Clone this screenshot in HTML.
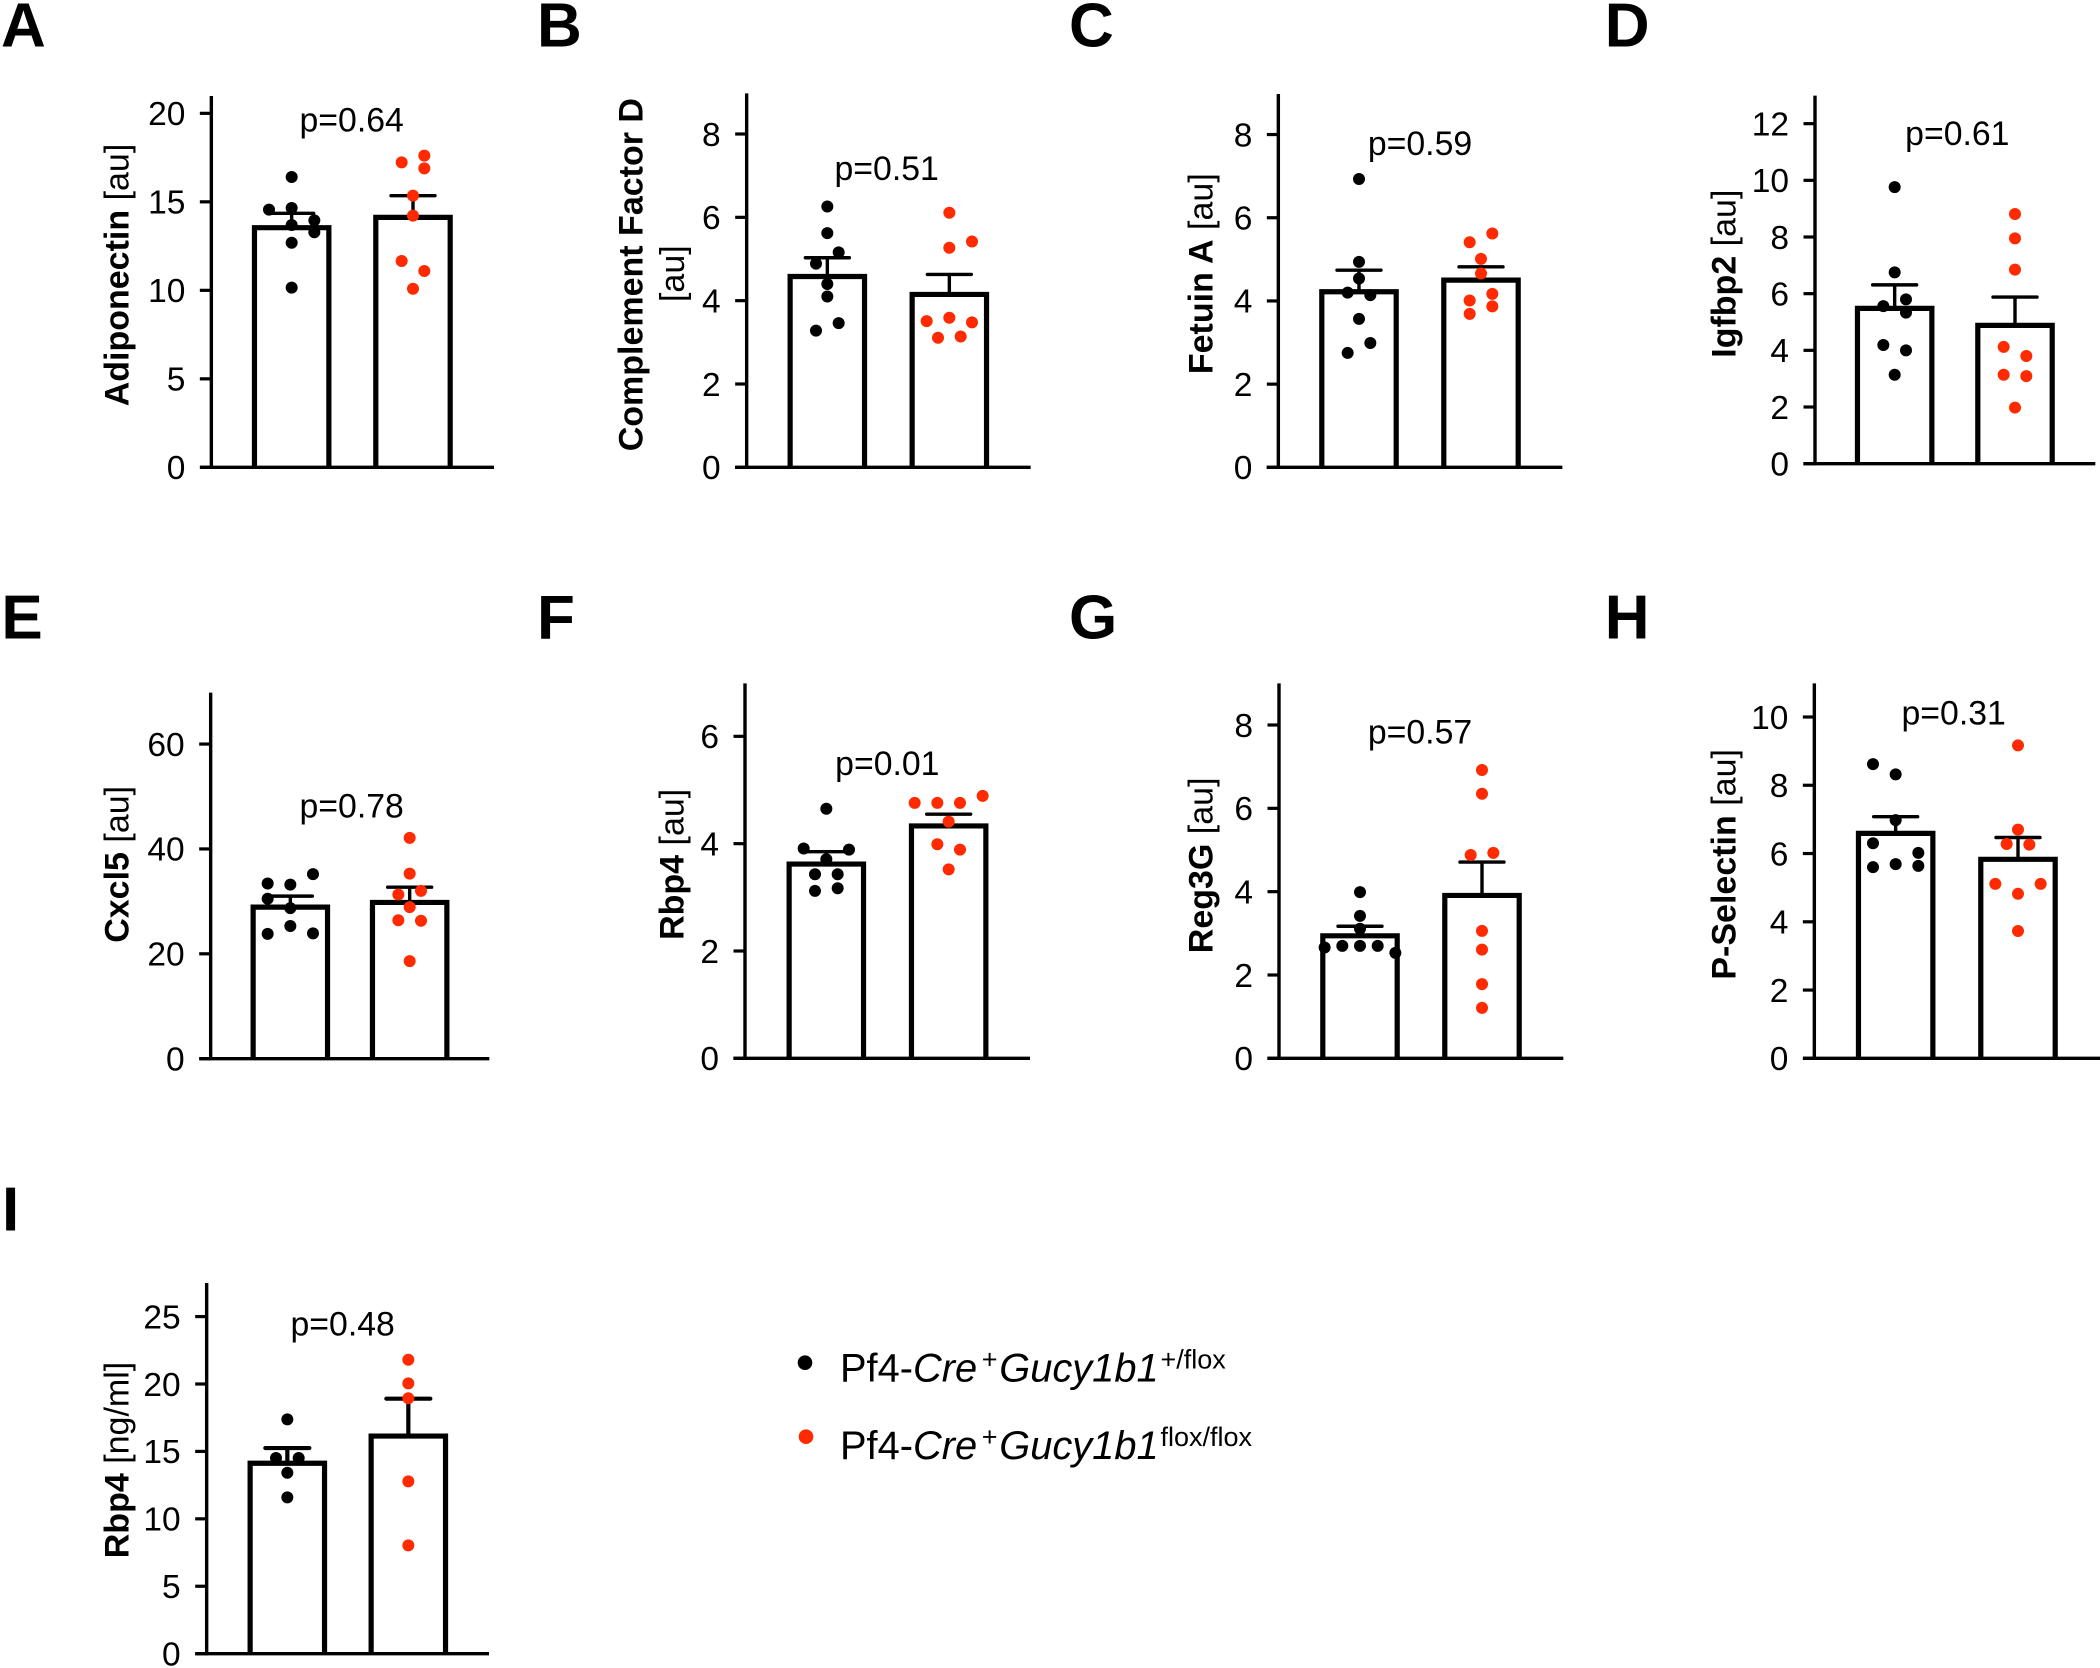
<!DOCTYPE html>
<html lang="en">
<head>
<meta charset="utf-8">
<title>Plasma protein levels by genotype</title>
<style>
html,body{margin:0;padding:0;background:#fff;}
svg{display:block;}
text{font-family:"Liberation Sans",Arial,sans-serif;fill:#000;}
.letter{font-size:62px;font-weight:700;}
.tick{font-size:33.5px;text-anchor:end;}
.pval{font-size:33.8px;text-anchor:middle;}
.ytitle{font-size:34px;text-anchor:middle;}
.legend{font-size:39.8px;}
</style>
</head>
<body>
<svg id="fig" xmlns="http://www.w3.org/2000/svg" width="2100" height="1668" viewBox="0 0 2100 1668">
  <rect x="0" y="0" width="2100" height="1668" fill="#fff"/>
  <text class="letter" x="1" y="46.7">A</text>
  <text class="letter" x="537" y="46.7">B</text>
  <text class="letter" x="1069" y="46.7">C</text>
  <text class="letter" x="1604.8" y="46.7">D</text>
  <text class="letter" x="1.4" y="638.3">E</text>
  <text class="letter" x="537" y="638.3">F</text>
  <text class="letter" x="1069" y="638.3">G</text>
  <text class="letter" x="1604.8" y="638.3">H</text>
  <text class="letter" x="2" y="1230.3">I</text>
  <g>
    <circle cx="805" cy="1362.7" r="7.3" fill="#000"/>
    <text class="legend" x="840" y="1381.7">Pf4-<tspan font-style="italic">Cre</tspan><tspan font-size="27" x="981.7" dy="-13">+</tspan><tspan font-style="italic" x="999.3" dy="13">Gucy1b1</tspan><tspan font-size="27" x="1160.5" dy="-13">+/flox</tspan></text>
    <circle cx="806" cy="1436.7" r="7.3" fill="#ff2a00"/>
    <text class="legend" x="840" y="1459">Pf4-<tspan font-style="italic">Cre</tspan><tspan font-size="27" x="981.7" dy="-13">+</tspan><tspan font-style="italic" x="999.3" dy="13">Gucy1b1</tspan><tspan font-size="27" x="1160.5" dy="-13">flox/flox</tspan></text>
  </g>
</svg>
<script>
// Panel A: Adiponectin
const aTicks = [0, 5, 10, 15, 20];
const aMeans = [13.54, 14.12];
const aErrTops = [14.35, 15.35];
const aBlack = [16.40, 14.56, 14.65, 13.95, 13.69, 13.28, 12.69, 10.15];
const aBlackSwarm = [0, -2, 0, 2, 0, 2, 0, 0];
const aRed = [17.61, 17.23, 16.89, 15.35, 14.22, 11.66, 11.09, 10.09];
const aRedSwarm = [1, -1, 1, 0, 0, -1, 1, 0];

// Panel B: Complement Factor D
const bTicks = [0, 2, 4, 6, 8];
const bMeans = [4.58, 4.15];
const bErrTops = [5.03, 4.63];
const bBlack = [6.26, 5.62, 5.16, 4.89, 4.40, 4.10, 3.46, 3.28];
const bBlackSwarm = [0, 0, 1, -1, 0, 0, 1, -1];
const bRed = [6.11, 5.42, 5.27, 3.59, 3.51, 3.48, 3.14, 3.11];
const bRedSwarm = [0, 2, 0, 0, -2, 2, 1, -1];

// Panel C: Fetuin A
const cTicks = [0, 2, 4, 6, 8];
const cMeans = [4.22, 4.50];
const cErrTops = [4.74, 4.82];
const cBlack = [6.93, 4.94, 4.54, 4.20, 4.14, 3.57, 2.99, 2.75];
const cBlackSwarm = [0, 0, 0, -1, 1, 0, 1, -1];
const cRed = [5.62, 5.41, 5.01, 4.66, 4.17, 4.01, 3.87, 3.69];
const cRedSwarm = [1, -1, 0, 0, 1, -1, 1, -1];

// Panel D: Igfbp2
const dTicks = [0, 2, 4, 6, 8, 10, 12];
const dMeans = [5.48, 4.88];
const dErrTops = [6.31, 5.88];
const dBlack = [9.76, 6.75, 5.80, 5.56, 5.33, 4.19, 4.00, 3.14];
const dBlackSwarm = [0, 0, 1, -1, 1, -1, 1, 0];
const dRed = [8.81, 7.95, 6.85, 4.12, 3.80, 3.14, 3.09, 1.98];
const dRedSwarm = [0, 0, 0, -1, 1, -1, 1, 0];

// Panel E: Cxcl5
const eTicks = [0, 20, 40, 60];
const eMeans = [28.9, 29.8];
const eErrTops = [31.0, 32.7];
const eBlack = [35.2, 33.4, 33.2, 30.5, 28.7, 25.3, 23.9, 23.8];
const eBlackSwarm = [2, -2, 0, -2, 0, 0, 2, -2];
const eRed = [42.1, 35.3, 32.0, 31.3, 28.9, 26.4, 26.3, 18.6];
const eRedSwarm = [0, 0, 1, -1, 0, -1, 1, 0];

// Panel F: Rbp4 (au)
const fTicks = [0, 2, 4, 6];
const fMeans = [3.62, 4.33];
const fErrTops = [3.85, 4.55];
const fBlack = [4.65, 3.91, 3.89, 3.71, 3.43, 3.43, 3.17, 3.12];
const fBlackSwarm = [0, -2, 2, 0, -1, 1, 1, -1];
const fRed = [4.89, 4.76, 4.76, 4.76, 4.41, 3.99, 3.89, 3.52];
const fRedSwarm = [3, -3, -1, 1, 0, -1, 1, 0];

// Panel G: Reg3G
const gTicks = [0, 2, 4, 6, 8];
const gMeans = [2.94, 3.91];
const gErrTops = [3.17, 4.71];
const gBlack = [3.99, 3.42, 3.11, 2.70, 2.70, 2.70, 2.66, 2.53];
const gBlackSwarm = [0, 0, 0, -1.56, 0, 1.56, -3.12, 3.12];
const gRed = [6.92, 6.35, 4.93, 4.88, 3.06, 2.61, 1.78, 1.21];
const gRedSwarm = [0, 0, 1, -1, 0, 0, 0, 0];

// Panel H: P-Selectin
const hTicks = [0, 2, 4, 6, 8, 10];
const hMeans = [6.59, 5.83];
const hErrTops = [7.08, 6.47];
const hBlack = [8.62, 8.32, 6.98, 6.30, 6.02, 5.69, 5.64, 5.60];
const hBlackSwarm = [-2, 0, 0, -2, 2, 0, 2, -2];
const hRed = [9.17, 6.70, 6.28, 6.26, 5.11, 5.11, 4.82, 3.73];
const hRedSwarm = [0, 0, -1, 1, -2, 2, 0, 0];

// Panel I: Rbp4 (ng/ml)
const iTicks = [0, 5, 10, 15, 20, 25];
const iMeans = [14.12, 16.14];
const iErrTops = [15.25, 18.91];
const iBlack = [17.38, 14.51, 14.51, 13.42, 11.59];
const iBlackSwarm = [0, -1, 1, 0, 0];
const iRed = [21.80, 20.05, 18.94, 12.78, 8.03];
const iRedSwarm = [0, 0, 0, 0, 0];

// Layout of each panel, measured at 3x from a crop origin (ox, oy)
const panels = [
  {key:'a', ox:0,    oy:0,    axisX:634, top:288, base:1402, unit:53.1,  xStart:600, xEnd:1482, bars:[875,1239],  pLabel:'p=0.64', pX:1055, pY:395, title:'Adiponectin', unitText:'[au]', titleX:385, titleY:825,
   ticks:aTicks, means:aMeans, errTops:aErrTops, black:aBlack, blackSwarm:aBlackSwarm, red:aRed, redSwarm:aRedSwarm},
  {key:'b', ox:530,  oy:0,    axisX:650, top:280, base:1402, unit:125,   xStart:615, xEnd:1502, bars:[892,1258],  pLabel:'p=0.51', pX:1070, pY:540, title:'Complement Factor D', unitText:'', titleX:338, titleY:824, line2:'[au]', line2X:462, line2Y:821,
   ticks:bTicks, means:bMeans, errTops:bErrTops, black:bBlack, blackSwarm:bBlackSwarm, red:bRed, redSwarm:bRedSwarm},
  {key:'c', ox:1050, oy:0,    axisX:685, top:282, base:1402, unit:124.8, xStart:650, xEnd:1537, bars:[927,1293],  pLabel:'p=0.59', pX:1110, pY:465, title:'Fetuin A', unitText:'[au]', titleX:487, titleY:821,
   ticks:cTicks, means:cMeans, errTops:cErrTops, black:cBlack, blackSwarm:cBlackSwarm, red:cRed, redSwarm:cRedSwarm},
  {key:'d', ox:1580, oy:0,    axisX:705, top:287, base:1391, unit:85,    xStart:670, xEnd:1546, bars:[944,1305],  pLabel:'p=0.61', pX:1132, pY:435, title:'Igfbp2', unitText:'[au]', titleX:467, titleY:821,
   ticks:dTicks, means:dMeans, errTops:dErrTops, black:dBlack, blackSwarm:dBlackSwarm, red:dRed, redSwarm:dRedSwarm},
  {key:'e', ox:0,    oy:590,  axisX:632, top:308, base:1406, unit:15.73, xStart:598, xEnd:1468, bars:[871,1229],  pLabel:'p=0.78', pX:1055, pY:682, title:'Cxcl5', unitText:'[au]', titleX:385, titleY:823,
   ticks:eTicks, means:eMeans, errTops:eErrTops, black:eBlack, blackSwarm:eBlackSwarm, red:eRed, redSwarm:eRedSwarm},
  {key:'f', ox:530,  oy:590,  axisX:645, top:280, base:1405, unit:161,   xStart:610, xEnd:1500, bars:[889,1256],  pLabel:'p=0.01', pX:1072, pY:555, title:'Rbp4', unitText:'[au]', titleX:460, titleY:823,
   ticks:fTicks, means:fMeans, errTops:fErrTops, black:fBlack, blackSwarm:fBlackSwarm, red:fRed, redSwarm:fRedSwarm},
  {key:'g', ox:1050, oy:590,  axisX:687, top:280, base:1405, unit:125,   xStart:652, xEnd:1540, bars:[930,1296],  pLabel:'p=0.57', pX:1110, pY:460, title:'Reg3G', unitText:'[au]', titleX:487, titleY:826,
   ticks:gTicks, means:gMeans, errTops:gErrTops, black:gBlack, blackSwarm:gBlackSwarm, red:gRed, redSwarm:gRedSwarm},
  {key:'h', ox:1580, oy:590,  axisX:703, top:280, base:1405, unit:102.4, xStart:669, xEnd:1560, bars:[947,1314],  pLabel:'p=0.31', pX:1121, pY:403, title:'P-Selectin', unitText:'[au]', titleX:467, titleY:823,
   ticks:hTicks, means:hMeans, errTops:hErrTops, black:hBlack, blackSwarm:hBlackSwarm, red:hRed, redSwarm:hRedSwarm},
  {key:'i', ox:0,    oy:1168, axisX:620, top:345, base:1457, unit:40.45, xStart:586, xEnd:1467, bars:[862,1225],  pLabel:'p=0.48', pX:1028, pY:503, title:'Rbp4', unitText:'[ng/ml]', titleX:385, titleY:876,
   ticks:iTicks, means:iMeans, errTops:iErrTops, black:iBlack, blackSwarm:iBlackSwarm, red:iRed, redSwarm:iRedSwarm}
];

const NS = 'http://www.w3.org/2000/svg';
const fig = document.getElementById('fig');
const SLOT = 34 / 3;
const BAR_HALF = 37.2;
const CAP_HALF = 66 / 3;
const DOT_R = 6;
const RED = '#ff2a00';
const groupNames = ['control', 'knockout'];

function make(parent, tag, attrs, text) {
  const node = document.createElementNS(NS, tag);
  for (const k in attrs) node.setAttribute(k, attrs[k]);
  if (text !== undefined) node.textContent = text;
  parent.appendChild(node);
  return node;
}

function drawPanel(p) {
  const px = z => p.ox + z / 3;
  const py = z => p.oy + z / 3;
  const yScale = v => py(p.base - v * p.unit);
  const xScale = i => px(p.bars[i]);
  const axisX = px(p.axisX);
  const baseY = yScale(0);

  const g = make(fig, 'g', {});
  
  

  // bars
  p.means.forEach((m, i) => {
    const x = xScale(i);
    const bar = make(g, 'path', {
      d: 'M' + (x - BAR_HALF) + ' ' + baseY + 'V' + yScale(m) + 'H' + (x + BAR_HALF) + 'V' + baseY,
      fill: '#fff', stroke: '#000', 'stroke-width': 5.2, 'stroke-linejoin': 'miter'
    });
    
    
  });

  // error bars
  const errWidth = p.key === 'i' ? 4.2 : 3.4;
  p.errTops.forEach((t, i) => {
    const x = xScale(i);
    const err = make(g, 'path', {
      d: 'M' + x + ' ' + yScale(p.means[i]) + 'V' + yScale(t) + 'M' + (x - CAP_HALF) + ' ' + yScale(t) + 'H' + (x + CAP_HALF),
      fill: 'none', stroke: '#000', 'stroke-width': errWidth, 'stroke-linecap': 'round'
    });
    
    
  });

  // axes
  const yAxis = make(g, 'line', {x1: axisX, x2: axisX, y1: py(p.top), y2: baseY + 1.6, stroke: '#000', 'stroke-width': 3.4});
  
  
  const xAxis = make(g, 'line', {x1: px(p.xStart), x2: px(p.xEnd), y1: baseY, y2: baseY, stroke: '#000', 'stroke-width': 3.4});
  
  

  // ticks and labels
  p.ticks.forEach(t => {
    const y = yScale(t);
    const tick = make(g, 'line', {x1: axisX - 11.5, x2: axisX, y1: y, y2: y, stroke: '#000', 'stroke-width': 3.2});
    
    
    const label = make(g, 'text', {class: 'tick', x: axisX - 26, y: y + 11.8}, String(t));
    
    
  });

  // points
  p.black.forEach((v, i) => {
    const dot = make(g, 'circle', {cx: xScale(0) + p.blackSwarm[i] * SLOT, cy: yScale(v), r: DOT_R, fill: '#000'});
    
    
  });
  p.red.forEach((v, i) => {
    const dot = make(g, 'circle', {cx: xScale(1) + p.redSwarm[i] * SLOT, cy: yScale(v), r: DOT_R, fill: RED});
    
    
  });

  // p value
  const pv = make(g, 'text', {class: 'pval', x: px(p.pX), y: py(p.pY)}, p.pLabel);
  
  

  // y title
  const tx = px(p.titleX);
  const ty = py(p.titleY);
  const title = make(g, 'text', {class: 'ytitle', x: tx, y: ty, transform: 'rotate(-90 ' + tx + ' ' + ty + ')'});
  
  
  make(title, 'tspan', {'font-weight': '700'}, p.title);
  if (p.unitText) make(title, 'tspan', {}, ' ' + p.unitText);
  if (p.line2) {
    const lx = px(p.line2X);
    const ly = py(p.line2Y);
    const second = make(g, 'text', {class: 'ytitle', x: lx, y: ly, transform: 'rotate(-90 ' + lx + ' ' + ly + ')'}, p.line2);
    
    
  }
}

panels.forEach(drawPanel);
</script>
</body>
</html>
